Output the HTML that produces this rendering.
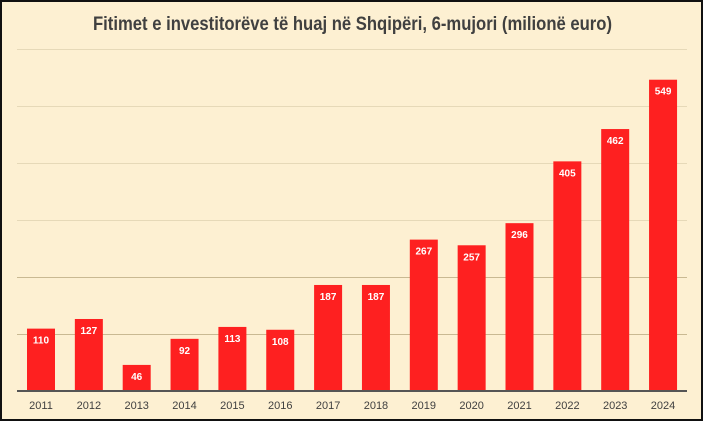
<!DOCTYPE html>
<html><head><meta charset="utf-8"><style>
html,body{margin:0;padding:0;background:#fff;}
svg{display:block;}
</style></head><body>
<svg width="703" height="421" xmlns="http://www.w3.org/2000/svg" font-family="'Liberation Sans', sans-serif">
<rect x="1" y="1" width="701" height="419" fill="#fdf0d2" stroke="#111" stroke-width="2"/>
<text x="93" y="30" font-size="19" font-weight="bold" fill="#404040" textLength="519" lengthAdjust="spacingAndGlyphs">Fitimet e investitorëve të huaj në Shqipëri, 6-mujori (milionë euro)</text>
<g stroke="#e6d9b8" stroke-width="1">
<line x1="17" x2="687" y1="49.5" y2="49.5"/>
<line x1="17" x2="687" y1="106.5" y2="106.5"/>
<line x1="17" x2="687" y1="163.5" y2="163.5"/>
<line x1="17" x2="687" y1="220.5" y2="220.5"/>
</g>
<g stroke="#c9b992" stroke-width="1">
<line x1="17" x2="687" y1="277.5" y2="277.5"/>
<line x1="17" x2="687" y1="334.5" y2="334.5"/>
</g>
<g id="bars" fill="#fe2020"></g>
<line x1="17" x2="687" y1="391" y2="391" stroke="#555" stroke-width="2"/>
<g font-size="11" fill="#404040" text-anchor="middle" id="years"></g>
<g font-size="10" font-weight="bold" fill="#fff" text-anchor="middle" id="vals"></g>
<script>
var d=[110,127,46,92,113,108,187,187,267,257,296,405,462,549];
var b=document.getElementById('bars'),y=document.getElementById('years'),v=document.getElementById('vals');
var ns='http://www.w3.org/2000/svg';
d.forEach(function(val,i){
 var cx=41+i*47.85,h=val*0.567,top=391-h;
 var r=document.createElementNS(ns,'rect');r.setAttribute('x',cx-14);r.setAttribute('y',top);r.setAttribute('width',28);r.setAttribute('height',h);b.appendChild(r);
 var t=document.createElementNS(ns,'text');t.setAttribute('x',cx);t.setAttribute('y',409);t.textContent=2011+i;y.appendChild(t);
 var u=document.createElementNS(ns,'text');u.setAttribute('x',cx);u.setAttribute('y',top+15);u.textContent=val;v.appendChild(u);
});
</script>
</svg>
</body></html>
